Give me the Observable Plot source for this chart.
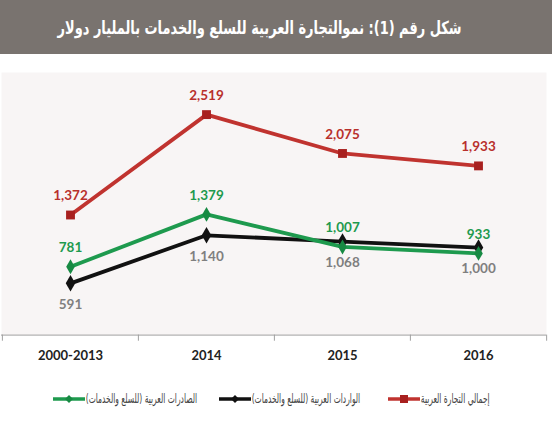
<!DOCTYPE html>
<html><head><meta charset="utf-8">
<script src="https://cdn.jsdelivr.net/npm/d3@7"></script>
<script src="https://cdn.jsdelivr.net/npm/@observablehq/plot@0.6"></script>
<style>
body{margin:0;background:#fff;width:552px;height:429px;overflow:hidden;font-family:"DejaVu Sans",sans-serif}
#title{height:54px;background:#79736f;color:#fff;font-weight:bold;font-size:18px;display:flex;align-items:center;justify-content:center;direction:rtl;white-space:nowrap}
#title span{display:inline-block;transform:scaleX(0.72);margin-right:32px}
#chart{margin-top:18px;height:303px}
#legend{position:relative;height:30px;margin-top:16px;font-size:13px;color:#444;white-space:nowrap}
.txt{position:absolute;top:0;line-height:16px;direction:rtl;transform-origin:right center}
.sw{position:absolute;top:3px}
</style></head><body>
<div id="title"><span>شكل رقم (1): نموالتجارة العربية للسلع والخدمات بالمليار دولار</span></div>
<div id="chart"></div>
<div id="legend"></div>
<script>
const periods = ["2000-2013","2014","2015","2016"];
const totalTrade = [1372, 2519, 2075, 1933];
const exportsArab = [781, 1379, 1007, 933];
const importsArab = [591, 1140, 1068, 1000];
const seriesNames = ["إجمالي التجارة العربية","الواردات العربية (للسلع والخدمات)","الصادرات العربية (للسلع والخدمات)"];
const seriesColors = ["#c0332f","#111111","#1e9a4e"];
const labelColors = ["#b8302c","#7f7f7f","#1e9a4e"];

const rows = [];
[totalTrade, importsArab, exportsArab].forEach((vals, si) => {
  vals.forEach((v, i) => rows.push({period: periods[i], value: v, series: seriesNames[si], si}));
});
const W = 552, mL = 1, mR = 6;
const step = (W - mL - mR) / periods.length;
const fmt = d3.format(",");
const numFont = "Lato,'Open Sans',sans-serif";

const chart = Plot.plot({
  width: W, height: 303,
  marginLeft: mL, marginRight: mR, marginTop: 0, marginBottom: 40.4,
  x: {type: "point", domain: periods, padding: 0.5, axis: null},
  y: {domain: [0, 3000], axis: null},
  style: {background: "transparent", overflow: "visible"},
  marks: [
    Plot.frame({fill: "#f8f5f5", stroke: null}),
    Plot.ruleY([0], {stroke: "#a0a0a0", strokeWidth: 1}),
    Plot.ruleX(periods, {x: d => d, y1: 0, y2: -70, dx: -step/2, stroke: "#a0a0a0"}),
    Plot.ruleX(periods.slice(-1), {x: d => d, y1: 0, y2: -70, dx: step/2, stroke: "#a0a0a0"}),
    Plot.text(periods, {x: d => d, y: 0, dy: 21, text: d => d, fill: "#222", fontSize: 13, fontWeight: "bold", fontFamily: numFont}),
    Plot.line(rows, {x: "period", y: "value", z: "series", stroke: d => seriesColors[d.si], strokeWidth: 3.8}),
    Plot.dot(rows.filter(d => d.si === 0), {x: "period", y: "value", symbol: "square", r: 5, fill: "#a8201f", stroke: null}),
    Plot.dot(rows.filter(d => d.si === 1), {x: "period", y: "value", symbol: "diamond", r: 5, fill: "#111", stroke: null}),
    Plot.dot(rows.filter(d => d.si === 2), {x: "period", y: "value", symbol: "diamond", r: 4.5, fill: "#178a43", stroke: null}),
    Plot.text(rows.filter(d => d.si !== 1), {x: "period", y: "value", text: d => fmt(d.value), dy: -19, fill: d => labelColors[d.si], fontSize: 13.5, fontWeight: "bold", fontFamily: numFont}),
    Plot.text(rows.filter(d => d.si === 1), {x: "period", y: "value", text: d => fmt(d.value), dy: 21, fill: labelColors[1], fontSize: 13.5, fontWeight: "bold", fontFamily: numFont})
  ]
});
document.getElementById("chart").appendChild(chart);

const legRight = [62, 192, 355]; // right edge of each legend text, from page right
const sx = 0.58;
const leg = d3.select("#legend");
seriesNames.forEach((n, i) => {
  const t = leg.append("div").attr("class", "txt").style("right", legRight[i] + "px").style("transform", `scaleX(${sx})`).text(n);
  const w = t.node().offsetWidth * sx;
  const s = leg.append("svg").attr("class", "sw").attr("width", 32).attr("height", 10)
    .style("right", (legRight[i] + w + 1) + "px");
  s.append("line").attr("x1", 0).attr("x2", 32).attr("y1", 5).attr("y2", 5).attr("stroke", seriesColors[i]).attr("stroke-width", 3.5);
  if (i === 0) s.append("rect").attr("x", 12).attr("y", 1).attr("width", 8).attr("height", 8).attr("fill", "#a8201f");
  else s.append("path").attr("d", "M16,1L20,5L16,9L12,5Z").attr("fill", i === 1 ? "#111" : "#178a43");
});
</script>
</body></html>
